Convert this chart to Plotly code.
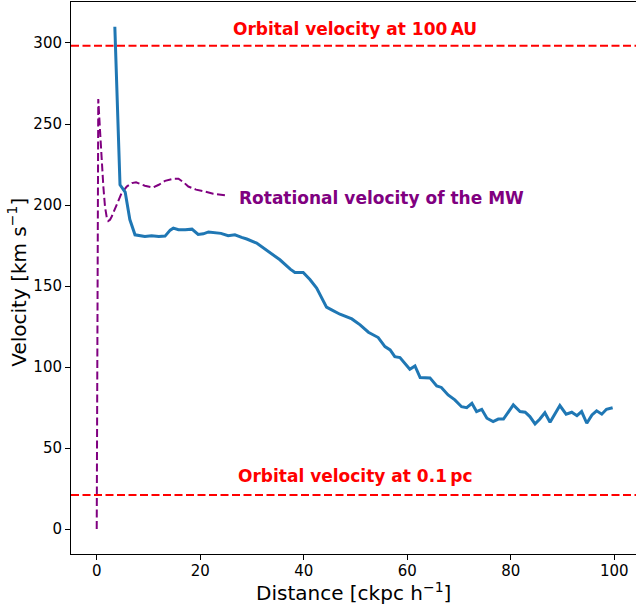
import plotly.graph_objects as go

# Simulated rotation curve (blue)
dist = [3.5, 4.5, 5.5, 6.4, 7.4, 9.3, 10.6, 12.0, 13.2, 14.2, 14.8, 15.8, 17.1, 18.4, 19.6, 20.6,
        21.6, 23.0, 24.0, 25.4, 26.7, 28.0, 29.0, 30.9, 32.2, 33.5, 35.4, 37.4, 38.3, 39.9, 41.2,
        42.5, 43.5, 44.4, 45.4, 47.0, 49.3, 50.9, 52.5, 54.4, 55.7, 56.7, 57.6, 58.6, 60.5, 61.5,
        62.5, 64.4, 65.7, 66.6, 67.9, 69.2, 70.5, 71.5, 72.5, 73.4, 74.4, 75.4, 76.6, 77.6, 78.6,
        80.5, 81.8, 82.8, 83.7, 84.7, 85.6, 86.6, 87.6, 88.6, 89.5, 90.7, 91.8, 92.8, 93.7, 94.7,
        95.7, 96.6, 97.6, 98.5, 99.7]
vel = [310, 212.5, 208, 191, 181.6, 180.5, 181, 180.5, 180.8, 184.5, 185.7, 184.7, 184.8, 185.1,
       181.8, 182.2, 183.4, 183.0, 182.5, 181, 181.6, 180, 179, 176.5, 173.5, 170.3, 166.2, 160.4,
       158.3, 158.3, 154, 148.7, 143, 137, 135.3, 132.6, 129.7, 126, 121.5, 118.2, 112.6, 110.6,
       106.4, 105.8, 98.6, 100.7, 93.5, 93.3, 88.3, 87.4, 82.8, 79.7, 75.5, 74.9, 77.6, 72.5, 73.9,
       68.4, 66.3, 67.9, 67.9, 76.6, 72.5, 72.1, 69.4, 64.9, 67.8, 71.8, 65.9, 70.9, 76.2, 70.9,
       72.1, 70, 72.5, 65.3, 70.4, 73, 70.9, 73.9, 74.9]

# Milky Way rotation curve (purple, dashed)
mw_dist = [0, 0.3, 0.64, 1.0, 1.28, 1.6, 1.93, 2.24, 2.57, 2.9, 3.54, 4.2, 4.8, 5.8, 6.8, 7.6,
           8.5, 9.3, 10.9, 12.0, 13.2, 14.8, 15.8, 16.8, 17.7, 19.2, 20.9, 22.5, 25.1]
mw_vel = [0, 265.4, 246, 225, 211.4, 199, 192.5, 190.2, 190.9, 192.9, 198, 203.2, 207.3, 211.4,
          213.5, 214, 213, 211.9, 210.8, 212.5, 214.9, 216.2, 216.2, 214, 211.4, 209.5, 208.3,
          207, 205.9]

# Reference orbital velocities
v_100au = 298.3
v_01pc = 21.0

x_title = "Distance [ckpc h<sup>\u22121</sup>]"
y_title = "Velocity [km s<sup>\u22121</sup>]"

FONT = "DejaVu Sans"

fig = go.Figure()
fig.add_trace(go.Scatter(x=mw_dist, y=mw_vel, mode="lines",
                         line=dict(color="#800080", width=2, dash="8px,3.5px"),
                         showlegend=False))
fig.add_trace(go.Scatter(x=dist, y=vel, mode="lines",
                         line=dict(color="#1f77b4", width=3),
                         showlegend=False))

for v in (v_100au, v_01pc):
    fig.add_shape(type="line", xref="paper", x0=0, x1=1, yref="y", y0=v, y1=v,
                  line=dict(color="red", width=2, dash="8px,3.5px"))

fig.add_annotation(x=50, y=308.6, text="<b>Orbital velocity at 100\u2009AU</b>", showarrow=False,
                   xanchor="center", yanchor="middle",
                   font=dict(family=FONT, size=17, color="red"))
fig.add_annotation(x=50, y=32.6, text="<b>Orbital velocity at 0.1\u2009pc</b>", showarrow=False,
                   xanchor="center", yanchor="middle",
                   font=dict(family=FONT, size=17, color="red"))
fig.add_annotation(x=27.2, y=204.6, text="<b>Rotational velocity of the MW</b>", showarrow=False,
                   xanchor="left", yanchor="middle",
                   font=dict(family=FONT, size=17, color="#800080"))

# Axis titles as paper-anchored annotations
fig.add_annotation(xref="paper", yref="paper", x=0.5, y=-0.068, text=x_title, showarrow=False,
                   xanchor="center", yanchor="middle",
                   font=dict(family=FONT, size=20, color="black"))
fig.add_annotation(xref="paper", yref="paper", x=-0.0955, y=0.4916, text=y_title, showarrow=False,
                   xanchor="center", yanchor="middle", textangle=-90,
                   font=dict(family=FONT, size=20, color="black"))

axis_common = dict(showgrid=False, zeroline=False, showline=True, linecolor="black", linewidth=1,
                   ticks="outside", ticklen=5, tickwidth=1, tickcolor="black",
                   tickfont=dict(family=FONT, size=15, color="black"))

fig.update_xaxes(range=[-4.97, 104.21], tickvals=[0, 20, 40, 60, 80, 100], mirror=True,
                 ticklabelstandoff=-2, **axis_common)
fig.update_yaxes(range=[-15.4, 325.3], tickvals=[0, 50, 100, 150, 200, 250, 300], mirror=False,
                 **axis_common)

fig.update_layout(width=636, height=608, margin=dict(l=71, r=0, t=2, b=54, autoexpand=False),
                  plot_bgcolor="white", paper_bgcolor="white",
                  font=dict(family=FONT, color="black"))

fig.write_html("out.html")
